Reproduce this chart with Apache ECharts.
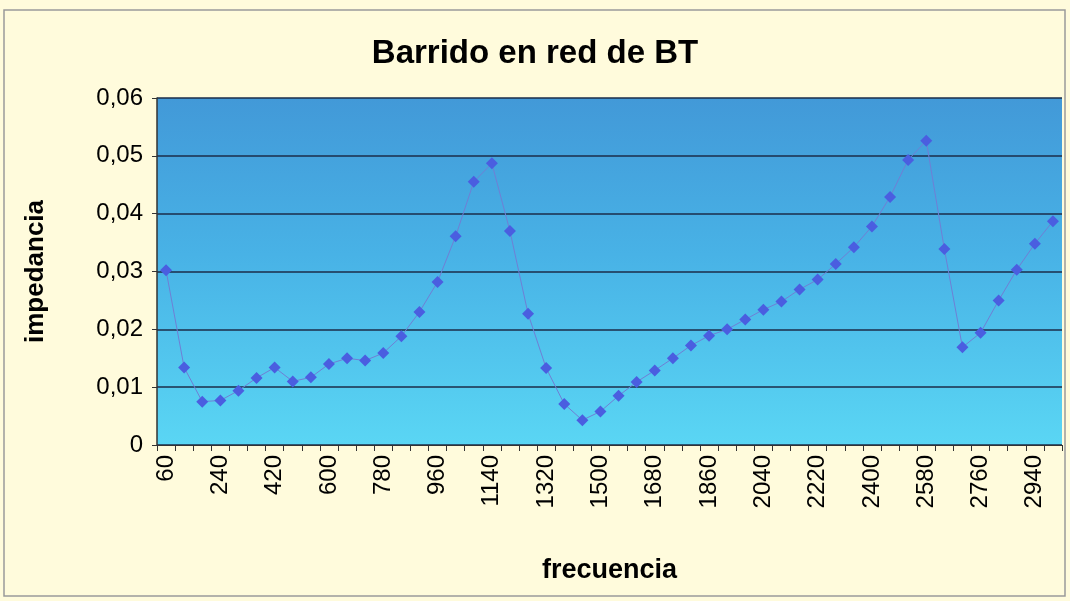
<!DOCTYPE html>
<html>
<head>
<meta charset="utf-8">
<script src="https://cdn.jsdelivr.net/npm/echarts@6/dist/echarts.min.js"></script>
<style>
  html, body { margin: 0; padding: 0; background: #fffbdc; }
  #chart { width: 1070px; height: 601px; }
</style>
</head>
<body>
<div id="chart"></div>
<script>
// frecuencia (Hz), 60..3000 step 60
const frecuencia = [60, 120, 180, 240, 300, 360, 420, 480, 540, 600,
  660, 720, 780, 840, 900, 960, 1020, 1080, 1140, 1200,
  1260, 1320, 1380, 1440, 1500, 1560, 1620, 1680, 1740, 1800,
  1860, 1920, 1980, 2040, 2100, 2160, 2220, 2280, 2340, 2400,
  2460, 2520, 2580, 2640, 2700, 2760, 2820, 2880, 2940, 3000]

// impedancia
const impedancia = [0.0302, 0.0134, 0.0075, 0.0077, 0.0094, 0.0116, 0.0134, 0.0110, 0.0117, 0.0140,
  0.0150, 0.0146, 0.0159, 0.0188, 0.0230, 0.0282, 0.0361, 0.0455, 0.0487, 0.0370,
  0.0227, 0.0133, 0.0071, 0.0043, 0.0058, 0.0085, 0.0109, 0.0129, 0.0150, 0.0172,
  0.0189, 0.0200, 0.0217, 0.0234, 0.0248, 0.0269, 0.0286, 0.0313, 0.0342, 0.0378,
  0.0429, 0.0493, 0.0526, 0.0339, 0.0169, 0.0194, 0.0250, 0.0303, 0.0348, 0.0387]

const yTicks = [0, 0.01, 0.02, 0.03, 0.04, 0.05, 0.06]

const chart = echarts.init(document.getElementById('chart'))
chart.setOption({
  animation: false,
  backgroundColor: '#fffbdc',
  title: {
    text: 'Barrido en red de BT',
    left: 'center',
    top: 32,
    textStyle: { fontFamily: 'Liberation Sans', fontSize: 33, fontWeight: 'bold', color: '#000' }
  },
  graphic: [{
    type: 'rect',
    shape: { x: 4, y: 10, width: 1061, height: 586 },
    style: { fill: 'none', stroke: '#9a9a9a', lineWidth: 1.5 }
  }],
  grid: {
    left: 157, right: 8, top: 98, bottom: 156,
    show: true,
    borderWidth: 0,
    backgroundColor: {
      type: 'linear', x: 0, y: 0, x2: 0, y2: 1,
      colorStops: [
        { offset: 0, color: '#4299d8' },
        { offset: 0.45, color: '#48b2e6' },
        { offset: 1, color: '#5ad6f4' }
      ]
    }
  },
  xAxis: {
    type: 'category',
    data: frecuencia,
    boundaryGap: true,
    name: 'frecuencia',
    nameLocation: 'middle',
    nameGap: 112,
    nameTextStyle: { fontFamily: 'Liberation Sans', fontSize: 27, fontWeight: 'bold', color: '#000' },
    axisLine: { lineStyle: { color: '#333', width: 1 } },
    axisTick: { show: true, interval: 0, length: 6, lineStyle: { color: '#333' } },
    axisLabel: {
      interval: 2,
      rotate: 90,
      margin: 10,
      fontFamily: 'Liberation Sans',
      fontSize: 24,
      color: '#000'
    },
    splitLine: { show: false }
  },
  yAxis: {
    type: 'value',
    min: 0,
    max: 0.06,
    interval: 0.01,
    name: 'impedancia',
    nameLocation: 'middle',
    nameGap: 108,
    nameRotate: 90,
    nameTextStyle: { fontFamily: 'Liberation Sans', fontSize: 26, fontWeight: 'bold', color: '#000' },
    axisLine: { show: true, lineStyle: { color: '#333', width: 1.5 } },
    axisTick: { show: true, length: 5, lineStyle: { color: '#333' } },
    axisLabel: {
      margin: 14,
      fontFamily: 'Liberation Sans',
      fontSize: 24,
      color: '#000',
      formatter: v => yTicks.includes(Math.round(v * 100) / 100) ? (v === 0 ? '0' : v.toFixed(2).replace('.', ',')) : ''
    },
    splitLine: { show: true, lineStyle: { color: '#1b2d4a', width: 1.5 } }
  },
  series: [{
    type: 'line',
    data: impedancia,
    symbol: 'diamond',
    symbolSize: 12,
    lineStyle: { color: '#6f7fd6', width: 1 },
    itemStyle: { color: '#4a5ee0' }
  }]
})
</script>
</body>
</html>
